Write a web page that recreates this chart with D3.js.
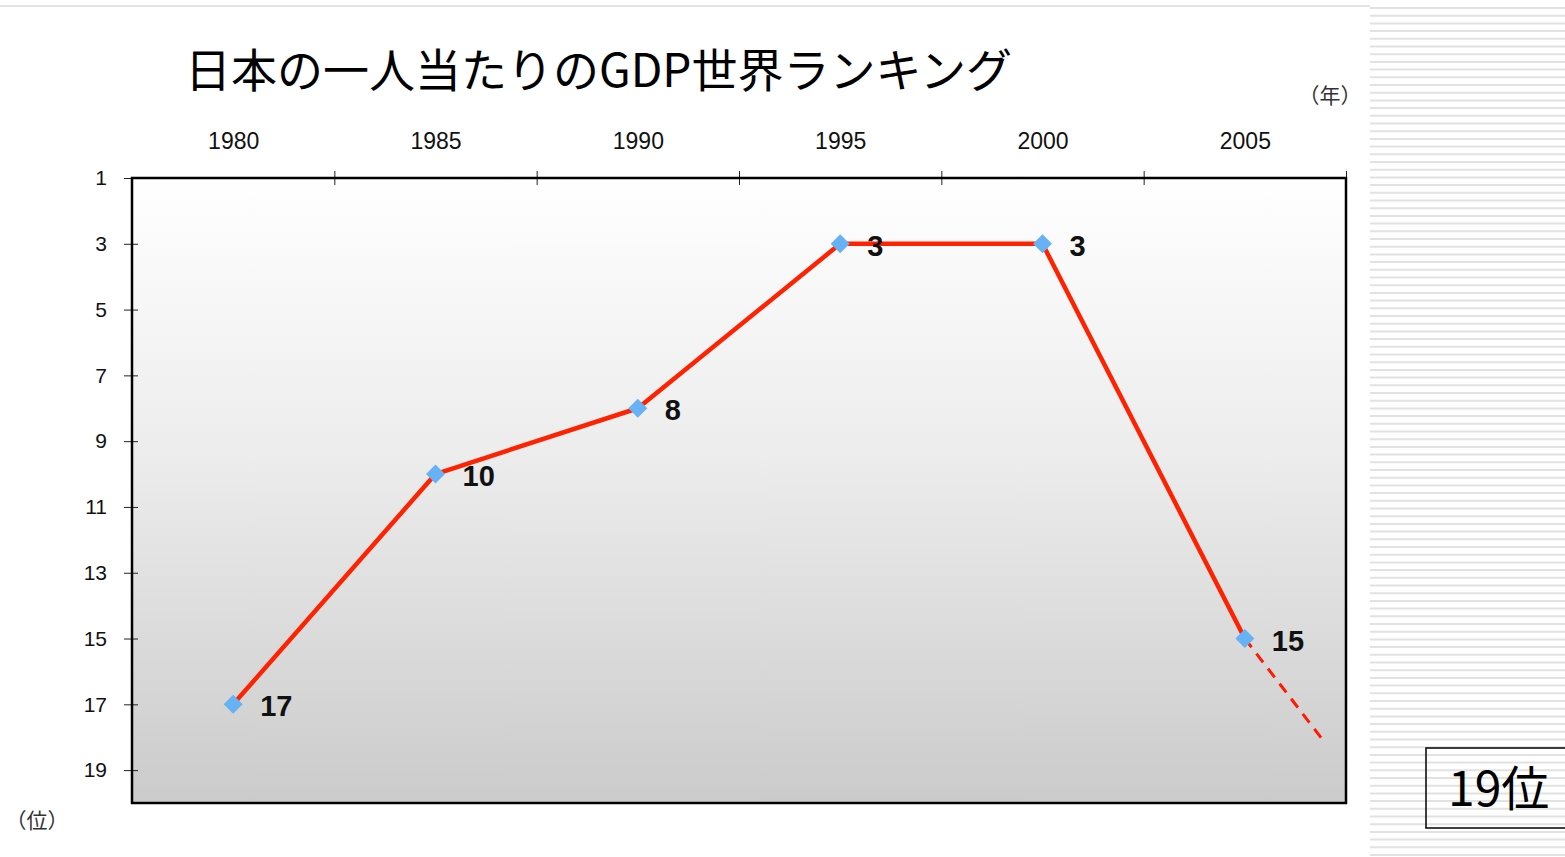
<!DOCTYPE html>
<html>
<head>
<meta charset="utf-8">
<script src="https://cdn.jsdelivr.net/npm/d3@7"></script>
<style>
  body { margin: 0; background: #fff; }
  svg { display: block; }
  .tick text { fill: #111; }
</style>
</head>
<body>
<div id="container"></div>
<script>
const years = [1980, 1985, 1990, 1995, 2000, 2005];
const ranks = [17, 10, 8, 3, 3, 15];
const projYears = [2005, 2007];
const projRanks = [15, 18.2];
const rankTicks = [1, 3, 5, 7, 9, 11, 13, 15, 17, 19];
const yearTicks = [1982.5, 1987.5, 1992.5, 1997.5, 2002.5, 2007.5];

const W = 1565, H = 857;
const plot = {left: 132, right: 1346, top: 178, bottom: 803};
const tickFont = "'Liberation Sans Narrow', 'Arial Narrow', 'Liberation Sans', Arial, sans-serif";
const jpFont = "'Noto Sans CJK JP', 'Noto Sans', sans-serif";

const x = d3.scaleLinear()
    .domain([1977.5, 2007.5])
    .range([plot.left, plot.right]);

const y = d3.scaleLinear()
    .domain([1, 20])
    .range([plot.top, plot.bottom]);

let svg = d3.select("#container")
    .append("svg")
    .attr("width", W)
    .attr("height", H);

let defs = svg.append("defs");
let grad = defs.append("linearGradient")
    .attr("id", "bg")
    .attr("x1", 0).attr("y1", 0).attr("x2", 0).attr("y2", 1);
grad.append("stop").attr("offset", "0%").attr("stop-color", "#ffffff");
grad.append("stop").attr("offset", "45%").attr("stop-color", "#ececec");
grad.append("stop").attr("offset", "100%").attr("stop-color", "#cbcbcb");

// page decoration: top rule and striped right panel
svg.append("line")
    .attr("x1", 0).attr("x2", 1370)
    .attr("y1", 6).attr("y2", 6)
    .attr("stroke", "#e4e4e4")
    .attr("stroke-width", 2);

let stripes = svg.append("g").attr("class", "stripes");
stripes.selectAll("line")
    .data(d3.range(8, H, 7.7))
    .enter()
    .append("line")
    .attr("x1", 1370).attr("x2", W)
    .attr("y1", d => d).attr("y2", d => d)
    .attr("stroke", "#e2e2e2")
    .attr("stroke-width", 2);

// title
svg.append("text")
    .attr("x", 185)
    .attr("y", 87)
    .attr("font-family", jpFont)
    .attr("font-size", 46)
    .attr("fill", "#000")
    .text("日本の一人当たりのGDP世界ランキング");

// plot background
svg.append("rect")
    .attr("x", plot.left)
    .attr("y", plot.top)
    .attr("width", plot.right - plot.left)
    .attr("height", plot.bottom - plot.top)
    .attr("fill", "url(#bg)");

// top axis: labels at years, ticks between
let topLabels = svg.append("g")
    .attr("transform", "translate(0," + plot.top + ")")
    .call(d3.axisTop(x).tickValues(years).tickSize(0).tickPadding(29).tickFormat(d3.format("d")));
topLabels.select(".domain").remove();
topLabels.selectAll("text")
    .attr("font-family", tickFont)
    .attr("font-size", 23);

let topTicks = svg.append("g")
    .attr("transform", "translate(0," + plot.top + ")")
    .call(d3.axisTop(x).tickValues(yearTicks).tickSize(7).tickFormat(""));
topTicks.select(".domain").remove();
topTicks.selectAll(".tick line").attr("y2", -7).attr("y1", 7).attr("stroke", "#222");

// left axis
let left = svg.append("g")
    .attr("transform", "translate(" + plot.left + ",0)")
    .call(d3.axisLeft(y).tickValues(rankTicks).tickSize(8).tickPadding(17));
left.select(".domain").remove();
left.selectAll(".tick line").attr("x2", -8).attr("x1", 6).attr("stroke", "#222");
left.selectAll("text")
    .attr("font-family", tickFont)
    .attr("font-size", 21);

// frame
svg.append("rect")
    .attr("x", plot.left)
    .attr("y", plot.top)
    .attr("width", plot.right - plot.left)
    .attr("height", plot.bottom - plot.top)
    .attr("fill", "none")
    .attr("stroke", "#000")
    .attr("stroke-width", 2.5);

// unit labels
svg.append("text")
    .attr("x", 1330).attr("y", 103)
    .attr("text-anchor", "middle")
    .attr("font-family", jpFont)
    .attr("font-size", 21)
    .attr("fill", "#333")
    .text("（年）");

svg.append("text")
    .attr("x", 37).attr("y", 828)
    .attr("text-anchor", "middle")
    .attr("font-family", jpFont)
    .attr("font-size", 21)
    .attr("fill", "#333")
    .text("（位）");

const pts = years.map((d, i) => ({year: d, rank: ranks[i]}));
const proj = projYears.map((d, i) => ({year: d, rank: projRanks[i]}));

const line = d3.line()
    .x(d => x(d.year))
    .y(d => y(d.rank));

svg.append("path")
    .datum(proj)
    .attr("d", line)
    .attr("fill", "none")
    .attr("stroke", "#ff1a00")
    .attr("stroke-width", 3)
    .attr("stroke-dasharray", "11,8");

svg.append("path")
    .datum(pts)
    .attr("d", line)
    .attr("fill", "none")
    .attr("stroke", "#ff2200")
    .attr("stroke-width", 4.5)
    .attr("stroke-linejoin", "round");

svg.append("g")
    .selectAll("path")
    .data(pts)
    .enter()
    .append("path")
    .attr("d", d3.symbol(d3.symbolDiamond2, 230))
    .attr("transform", d => "translate(" + x(d.year) + "," + y(d.rank) + ")")
    .attr("fill", "#66b2f5");

svg.append("g")
    .selectAll("text")
    .data(pts)
    .enter()
    .append("text")
    .attr("x", d => x(d.year) + 27)
    .attr("y", d => y(d.rank) + 12)
    .attr("font-family", "'Liberation Sans', Arial, sans-serif")
    .attr("font-weight", "bold")
    .attr("font-size", 29)
    .attr("fill", "#111")
    .text(d => d.rank);

// callout box
svg.append("rect")
    .attr("x", 1426).attr("y", 748)
    .attr("width", 150).attr("height", 80)
    .attr("fill", "none")
    .attr("stroke", "#000")
    .attr("stroke-width", 1.5);

svg.append("text")
    .attr("x", 1448).attr("y", 806)
    .attr("font-family", jpFont)
    .attr("font-size", 48)
    .attr("fill", "#000")
    .text("19位");
</script>
</body>
</html>
